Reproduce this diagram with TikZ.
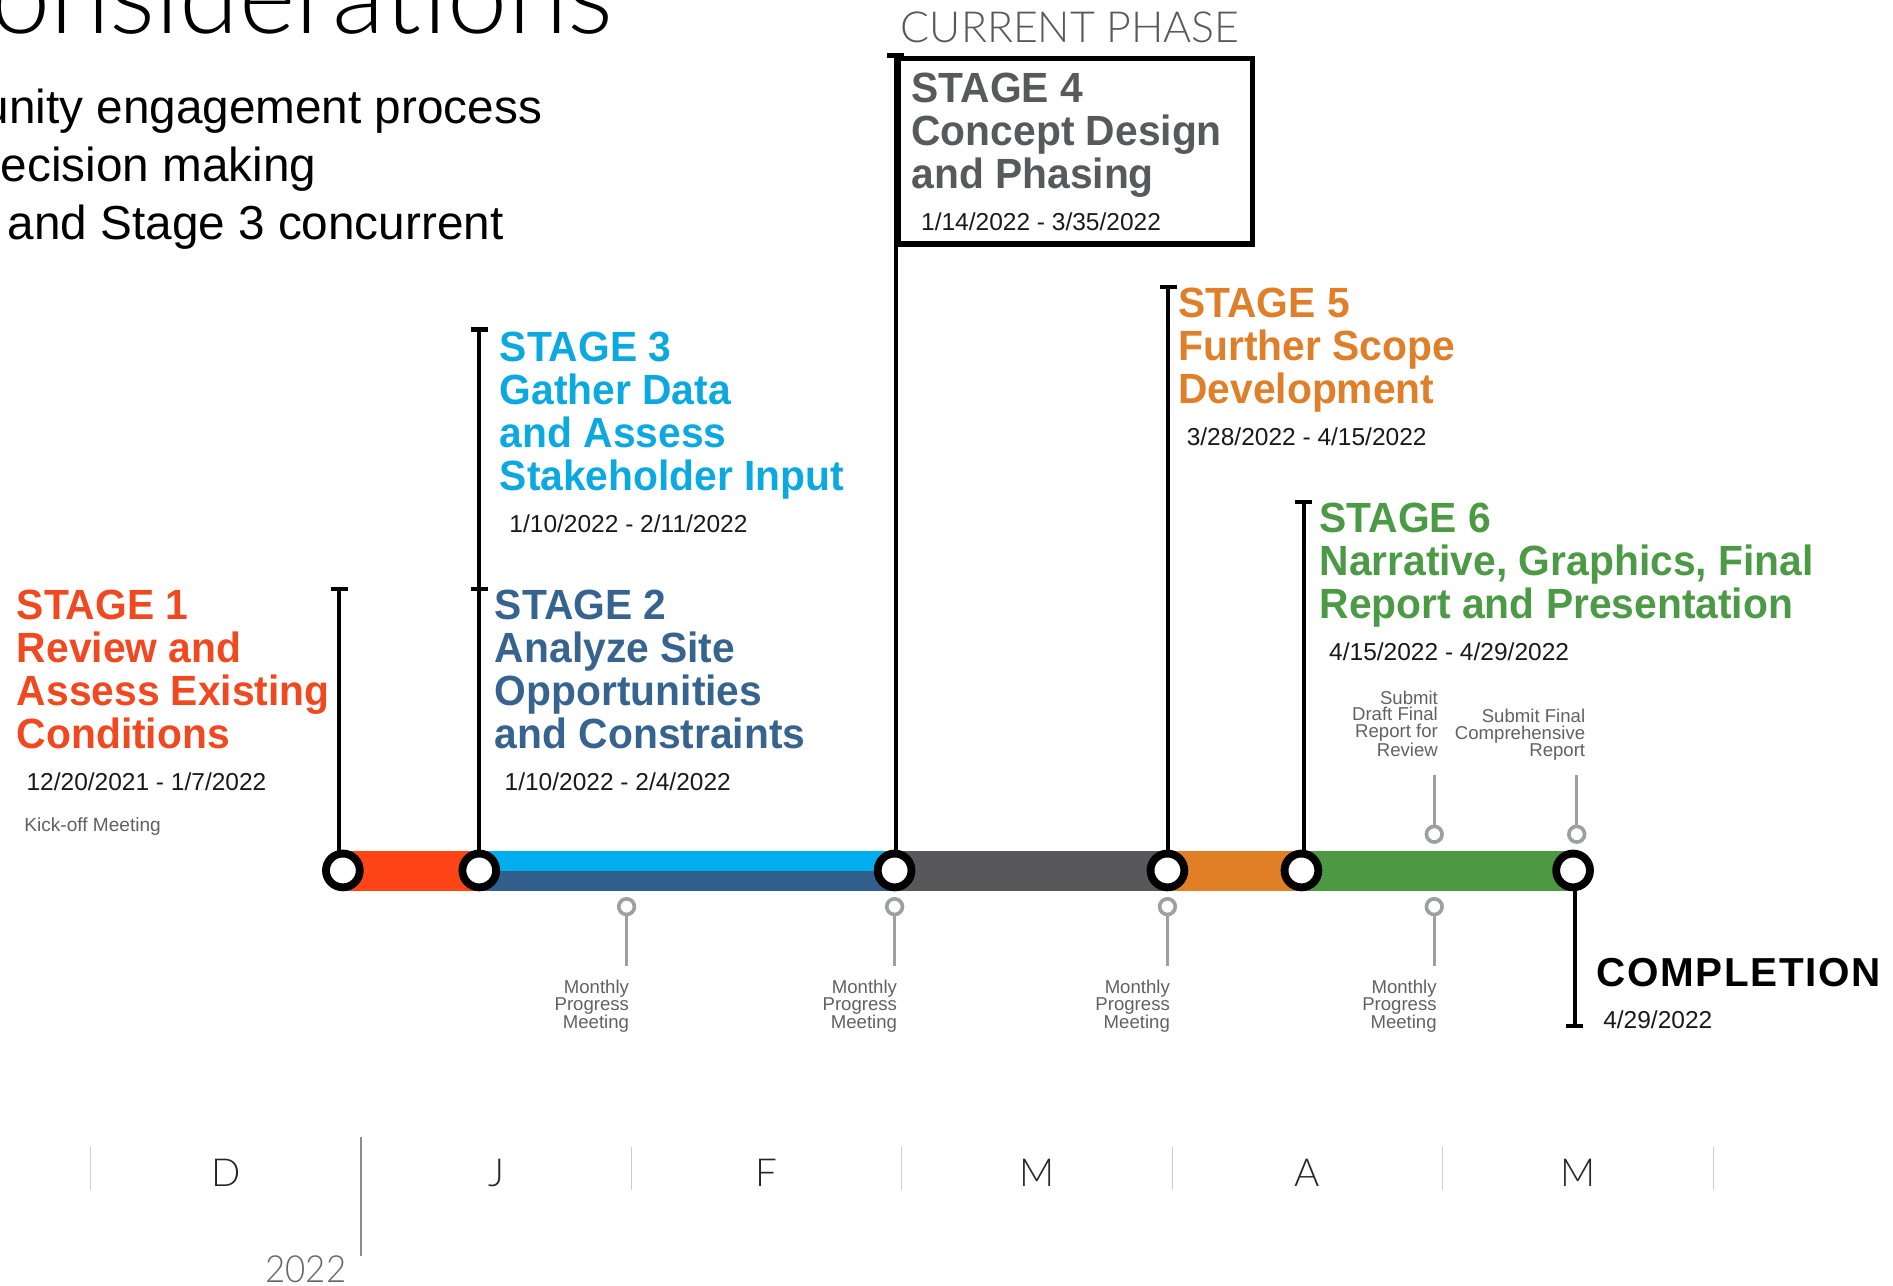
\documentclass[tikz,border=0pt]{standalone}
\usepackage{fontspec}
\usetikzlibrary{calc}
\setmainfont{Liberation Sans}
\newfontfamily\lightf{Lato Light}
\newfontfamily\lightn[FakeStretch=0.93]{Lato Light}
\newfontfamily\boldf[FakeStretch=0.965]{Liberation Sans Bold}
\newfontfamily\compf[LetterSpace=4.2]{Liberation Sans Bold}
\definecolor{cred}{HTML}{F0491F}
\definecolor{cblue}{HTML}{0BA9E0}
\definecolor{cnavy}{HTML}{36648F}
\definecolor{cgrey}{HTML}{58595B}
\definecolor{corange}{HTML}{E07F2A}
\definecolor{cgreen}{HTML}{4C9A45}
\definecolor{bred}{HTML}{FF4517}
\definecolor{bblue}{HTML}{00ADEE}
\definecolor{bnavy}{HTML}{2F5F8A}
\definecolor{bgrey}{HTML}{58585A}
\definecolor{borange}{HTML}{E07F26}
\definecolor{bgreen}{HTML}{4C9843}
\definecolor{mkc}{HTML}{9D9FA2}
\tikzset{
 txt/.style={inner sep=0pt,outer sep=0pt,anchor=base west,align=left},
 stagetext/.style={txt,font=\boldf\fontsize{35}{35.6}\selectfont},
 datetext/.style={txt,font=\fontsize{20.3}{24}\selectfont,text=black!90},
 smalltext/.style={inner sep=0pt,outer sep=0pt,anchor=base east,align=right,text=black!62,font=\fontsize{15.4}{14}\selectfont},
 bodytext/.style={inner sep=0pt,outer sep=0pt,anchor=base east,font=\fontsize{39.5}{48}\selectfont},
 month/.style={inner sep=0pt,anchor=base,text=black!85,font=\lightf\fontsize{32}{36}\selectfont},
 stem/.style={line width=3.2pt,draw=black},
 tbar/.style={line width=3.5pt,draw=black},
 mstem/.style={line width=2.6pt,draw=mkc},
 hub/.style={circle,draw=black,fill=white,line width=6.5pt,minimum size=28pt,inner sep=0pt},
 mk/.style={circle,draw=mkc,fill=white,line width=3pt,minimum size=13pt,inner sep=0pt},
 tickline/.style={line width=1pt,draw=black!20},
}
\begin{document}
\begin{tikzpicture}[x=1pt,y=-1pt]
\useasboundingbox (0,0) rectangle (1568,1065);
\clip (0,0) rectangle (1568,1065);
% heading
\node[inner sep=0pt,anchor=base east,font=\lightf\fontsize{89.5}{92}\selectfont] (title) at (508,28) {onsiderations};
\node[bodytext] (b1) at (449,102) {unity engagement process};
\node[bodytext] (b2) at (262,150) {ecision making};
\node[bodytext] (b3) at (417,198) {and Stage 3 concurrent};
% bar
\fill[bred] (284,705) rectangle (397,738);
\fill[bblue] (397,705) rectangle (741,721.5);
\fill[bnavy] (397,721.5) rectangle (741,738);
\fill[bgrey] (741,705) rectangle (967,738);
\fill[borange] (967,705) rectangle (1078,738);
\fill[bgreen] (1078,705) rectangle (1303,738);
% tops of the stems
\coordinate (t1) at (281,488);
\coordinate (t2) at (397,488);
\coordinate (t3) at (397,273);
\coordinate (t4) at (742,46);
\coordinate (t5) at (967.5,238);
\coordinate (t6) at (1080,416);
\coordinate (t7) at (1304.5,850);
% stage 4 box
\node[draw=black,line width=4.5pt,minimum width=293pt,minimum height=154pt,inner sep=0pt,anchor=north west] (box) at (742,46) {};
% stems
\draw[stem] (t1) -- (t1 |- 0,705);
\draw[stem] (t3) -- (t3 |- 0,705);
\draw[stem] (t4) -- (t4 |- 0,705);
\draw[stem] (t5) -- (t5 |- 0,705);
\draw[stem] (t6) -- (t6 |- 0,705);
\draw[stem] (t7) -- (t7 |- 0,738);
\foreach \c in {t1,t2,t3,t4,t5,t6,t7}{
 \draw[tbar] ($(\c)+(-7,0)$) -- ($(\c)+(7,0)$);
}
% hubs
\node[hub] (n1) at (284,721) {};
\node[hub] (n2) at (397,721) {};
\node[hub] (n3) at (741,721) {};
\node[hub] (n4) at (967,721) {};
\node[hub] (n5) at (1078,721) {};
\node[hub] (n6) at (1303,721) {};
% stage texts
\node[stagetext,text=cred] (s1) at (14,620) {STAGE 1\\Review and\\Assess Existing\\Conditions};
\node[datetext] (d1) at (22,655) {12/20/2021 - 1/7/2022};
\node[inner sep=0pt,anchor=base west,text=black!62,font=\fontsize{15.8}{14}\selectfont] (k) at (20,689) {Kick-off Meeting};
\node[stagetext,text=cnavy] (s2) at (410,620) {STAGE 2\\Analyze Site\\Opportunities\\and Constraints};
\node[datetext] (d2) at (418,655) {1/10/2022 - 2/4/2022};
\node[stagetext,text=cblue] (s3) at (414,406) {STAGE 3\\Gather Data\\and Assess\\Stakeholder Input};
\node[datetext] (d3) at (422,441) {1/10/2022 - 2/11/2022};
\node[stagetext,text=cgrey] (s4) at (755,156) {STAGE 4\\Concept Design\\and Phasing};
\node[datetext] (d4) at (763,191) {1/14/2022 - 3/35/2022};
\node[stagetext,text=corange] (s5) at (976,334) {STAGE 5\\Further Scope\\Development};
\node[datetext] (d5) at (983,369) {3/28/2022 - 4/15/2022};
\node[stagetext,text=cgreen] (s6) at (1093,512) {STAGE 6\\Narrative, Graphics, Final\\Report and Presentation};
\node[datetext] (d6) at (1101,547) {4/15/2022 - 4/29/2022};
\node[inner sep=0pt,anchor=base west,text=black!65,font=\lightf\fontsize{35.5}{36}\selectfont] (cp) at (746,35) {CURRENT PHASE};
\node[inner sep=0pt,anchor=base west,font=\compf\fontsize{33.5}{36}\selectfont] (c) at (1322,817) {COMPLETION};
\node[datetext] (d7) at (1328,852) {4/29/2022};
% markers below
\foreach \n/\x in {a/519,b/741,c/967,d/1188}{
 \node[mk] (m\n) at (\x,751) {};
 \coordinate (e\n) at (\x,800);
 \draw[mstem] (m\n) -- (e\n);
 \node[smalltext] (l\n) at (\x+2,852) {Monthly\\Progress\\Meeting};
}
% markers above
\node[mk] (me) at (1188,691) {};
\coordinate (ee) at (1188,642);
\draw[mstem] (me) -- (ee);
\node[mk] (mf) at (1306,691) {};
\coordinate (ef) at (1306,642);
\draw[mstem] (mf) -- (ef);
\node[smalltext] (le) at (1191,626.5) {Submit\\Draft Final\\Report for\\Review};
\node[smalltext] (lf) at (1313,626.5) {Submit Final\\Comprehensive\\Report};
% months
\foreach \n/\x in {a/75,b/523,c/747,d/971,e/1195,f/1419}{
 \coordinate (ta\n) at (\x,950);
 \coordinate (tb\n) at (\x,986);
 \draw[tickline] (ta\n) -- (tb\n);
}
\coordinate (ya) at (299,942);
\coordinate (yb) at (299,1040);
\draw[line width=1.3pt,draw=black!45] (ya) -- (yb);
\node[month] (m1) at (187,983) {D};
\node[month] (m2) at (411,983) {J};
\node[month] (m3) at (635,983) {F};
\node[month] (m4) at (859,983) {M};
\node[month] (m5) at (1083,983) {A};
\node[month] (m6) at (1307,983) {M};
\node[inner sep=0pt,anchor=base east,text=black!60,font=\lightn\fontsize{31}{36}\selectfont] (yr) at (287,1062) {2022};
\end{tikzpicture}
\end{document}
